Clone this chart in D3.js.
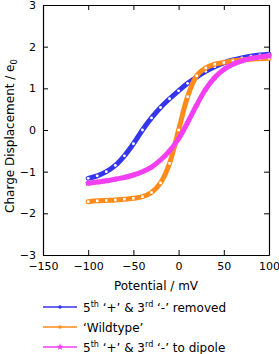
<!DOCTYPE html>
<html>
<head>
<meta charset="utf-8">
<script src="https://cdn.jsdelivr.net/npm/d3@7"></script>
<style>
  body { margin: 0; background: #fff; }
  text { font-family: "DejaVu Sans", sans-serif; }
</style>
</head>
<body>
<svg id="chart" width="279" height="354"></svg>
<script>
// potential in mV
var potential = [-100, -90, -80, -70, -60, -50, -40, -30, -20, -10, 0, 10, 20, 30, 40, 50, 60, 70, 80, 90, 100];
var removed   = [-1.16, -1.10, -1.00, -0.85, -0.62, -0.33, 0.00, 0.29, 0.54, 0.75, 0.94, 1.12, 1.27, 1.41, 1.52, 1.61, 1.68, 1.73, 1.77, 1.80, 1.82];
var wildtype  = [-1.72, -1.70, -1.69, -1.68, -1.66, -1.64, -1.60, -1.50, -1.27, -0.80, 0.00, 0.80, 1.30, 1.49, 1.58, 1.62, 1.66, 1.68, 1.70, 1.71, 1.72];
var dipole    = [-1.28, -1.25, -1.22, -1.18, -1.14, -1.08, -1.00, -0.89, -0.72, -0.50, -0.21, 0.18, 0.60, 0.98, 1.26, 1.45, 1.58, 1.66, 1.72, 1.75, 1.78];
var xTicks = [-150, -100, -50, 0, 50, 100];
var yTicks = [-3, -2, -1, 0, 1, 2, 3];

var svg = d3.select("#chart");
var padding = {t: 5, r: 10, b: 99, l: 43};
var width = 279 - padding.l - padding.r;
var height = 354 - padding.t - padding.b;

var x = d3.scaleLinear().domain([-150, 100]).range([0, width]);
var y = d3.scaleLinear().domain([-3, 3]).range([height, 0]);

var chartG = svg.append("g")
    .attr("transform", "translate(" + [padding.l, padding.t] + ")");

var fmt = function(d) { return d < 0 ? "\u2212" + Math.abs(d) : "" + d; };

// axes, ticks pointing inward on all four sides
var xAxis = chartG.append("g").attr("transform", "translate(0," + height + ")")
    .call(d3.axisBottom(x).tickValues(xTicks).tickSizeInner(-5).tickSizeOuter(0).tickPadding(7).tickFormat(fmt));
var xTop = chartG.append("g")
    .call(d3.axisTop(x).tickValues(xTicks).tickSizeInner(-5).tickSizeOuter(0).tickFormat(""));
var yAxis = chartG.append("g")
    .call(d3.axisLeft(y).tickValues(yTicks).tickSizeInner(-5).tickSizeOuter(0).tickPadding(7).tickFormat(fmt));
var yRight = chartG.append("g").attr("transform", "translate(" + width + ",0)")
    .call(d3.axisRight(y).tickValues(yTicks).tickSizeInner(-5).tickSizeOuter(0).tickFormat(""));

[xAxis, xTop, yAxis, yRight].forEach(function(a) {
  a.selectAll(".domain").attr("stroke", "#000").attr("stroke-width", 1.2);
  a.selectAll("line").attr("stroke", "#000");
  a.selectAll("text").attr("font-size", 11).attr("fill", "#000")
    .style("font-family", "DejaVu Sans, sans-serif");
});

// axis titles
chartG.append("text")
    .attr("x", width / 2).attr("y", height + 35)
    .attr("text-anchor", "middle").attr("font-size", 12)
    .text("Potential / mV");

var yl = chartG.append("text")
    .attr("transform", "translate(-29," + (height / 2 + 6) + ") rotate(-90)")
    .attr("text-anchor", "middle").attr("font-size", 12);
yl.append("tspan").text("Charge Displacement / e");
yl.append("tspan").attr("font-size", 8.5).attr("dy", 3).text("0");

var series = [
  {key: "removed", vals: removed, color: "#3535ee", marker: "circle"},
  {key: "wildtype", vals: wildtype, color: "#ff8c1a", marker: "square"},
  {key: "dipole", vals: dipole, color: "#f23ff2", marker: "star"}
];

var line = d3.line()
    .x(function(d) { return x(d[0]); })
    .y(function(d) { return y(d[1]); })
    .curve(d3.curveCatmullRom);

var plotG = chartG.append("g");
series.forEach(function(s) {
  var pts = potential.map(function(p, i) { return [p, s.vals[i]]; });
  plotG.append("path")
      .datum(pts)
      .attr("fill", "none")
      .attr("stroke", s.color)
      .attr("stroke-width", 5)
      .attr("stroke-linejoin", "round")
      .attr("stroke-linecap", "round")
      .attr("d", line);
  var sym = s.marker == "circle" ? d3.symbolCircle : (s.marker == "square" ? d3.symbolSquare : d3.symbolStar);
  plotG.selectAll(".m-" + s.key)
      .data(pts)
      .enter().append("path")
      .attr("class", "m-" + s.key)
      .attr("transform", function(d) { return "translate(" + [x(d[0]), y(d[1])] + ")"; })
      .attr("d", d3.symbol().type(sym).size(s.marker == "star" ? 14 : 6.5))
      .attr("fill", s.marker == "star" ? s.color : "#fff");
});

// legend
var labels = [
  [["5", ""], ["th", "sup"], [" \u2018+\u2019 & 3", ""], ["rd", "sup"], [" \u2018-\u2019 removed", ""]],
  [["\u2018Wildtype\u2019", ""]],
  [["5", ""], ["th", "sup"], [" \u2018+\u2019 & 3", ""], ["rd", "sup"], [" \u2018-\u2019 to dipole", ""]]
];
var legend = svg.append("g").attr("transform", "translate(43,307)");
series.forEach(function(s, i) {
  var g = legend.append("g").attr("transform", "translate(0," + (i * 20) + ")");
  g.append("line").attr("x1", 0).attr("x2", 34).attr("stroke", s.color).attr("stroke-width", 1.3);
  var sym = s.marker == "circle" ? d3.symbolCircle : (s.marker == "square" ? d3.symbolSquare : d3.symbolStar);
  g.append("path").attr("transform", "translate(17,0)")
      .attr("d", d3.symbol().type(sym).size(s.marker == "star" ? 16 : 9)).attr("fill", s.color);
  var t = g.append("text").attr("x", 40).attr("y", 4.5).attr("font-size", 12);
  var prevSup = false;
  labels[i].forEach(function(part) {
    var ts = t.append("tspan").text(part[0]);
    if (part[1] == "sup") {
      ts.attr("font-size", 8).attr("dy", -4.5);
      prevSup = true;
    } else if (prevSup) {
      ts.attr("dy", 4.5);
      prevSup = false;
    }
  });
});
</script>
</body>
</html>
